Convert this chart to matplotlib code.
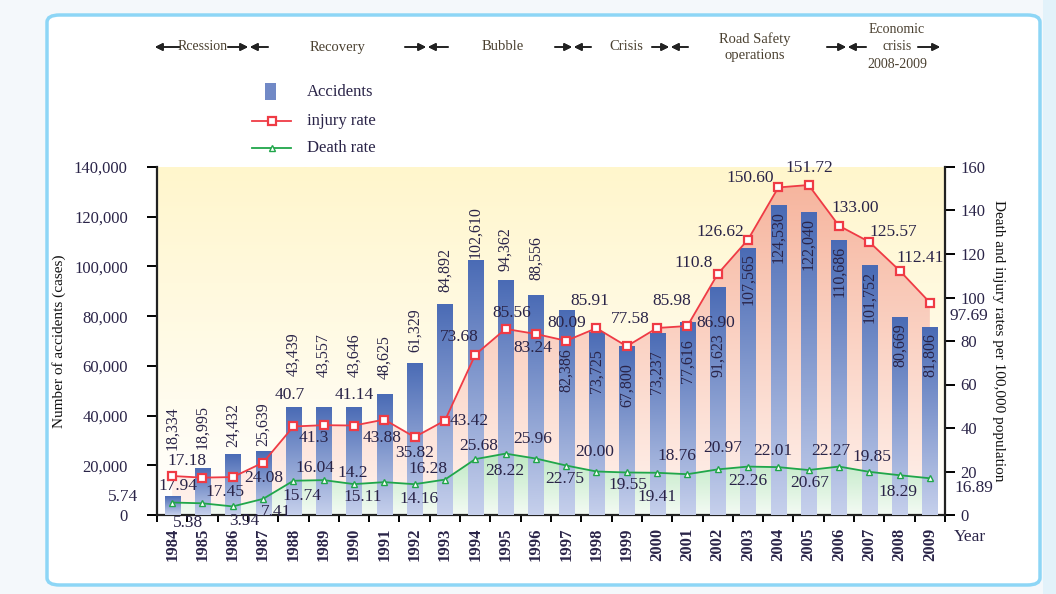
import numpy as np
import matplotlib.pyplot as plt
from matplotlib.patches import FancyBboxPatch, Rectangle
from matplotlib.lines import Line2D
from matplotlib.colors import LinearSegmentedColormap
from matplotlib.ticker import FuncFormatter

plt.rcParams['font.family'] = ['Liberation Serif', 'DejaVu Serif']

# ---- data ----
years = ['1984', '1985', '1986', '1987', '1988', '1989', '1990', '1991', '1992',
         '1993', '1994', '1995', '1996', '1997', '1998', '1999', '2000', '2001',
         '2002', '2003', '2004', '2005', '2006', '2007', '2008', '2009']

# bar heights as drawn
accidents = [7600, 18995, 24432, 25639, 43439, 43557, 43646, 48625, 61329,
             84892, 102610, 94362, 88556, 82386, 73725, 67800, 73237, 77616,
             91623, 107565, 124530, 122040, 110686, 100500, 79700, 75600]
# numbers printed on the bars
accident_labels = ['18,334', '18,995', '24,432', '25,639', '43,439', '43,557',
                   '43,646', '48,625', '61,329', '84,892', '102,610', '94,362',
                   '88,556', '82,386', '73,725', '67,800', '73,237', '77,616',
                   '91,623', '107,565', '124,530', '122,040', '110,686',
                   '101,752', '80,669', '81,806']

injury_labels = ['17.94', '17.18', '17.45', '24.08', '40.7', '41.3', '41.14',
                 '43.88', '35.82', '43.42', '73.68', '85.56', '83.24', '80.09',
                 '85.91', '77.58', '85.98', '86.90', '110.8', '126.62', '150.60',
                 '151.72', '133.00', '125.57', '112.41', '97.69']
death_labels = ['5.74', '5.38', '3.94', '7.41', '15.74', '16.04', '14.2', '15.11',
                '14.16', '16.28', '25.68', '28.22', '25.96', '22.75', '20.00',
                '19.55', '19.41', '18.76', '20.97', '22.26', '22.01', '20.67',
                '22.27', '19.85', '18.29', '16.89']
injury = [float(s) for s in injury_labels]
death = [float(s) for s in death_labels]

periods = ['Rcession', 'Recovery', 'Bubble', 'Crisis', 'Road Safety\noperations',
           'Economic\ncrisis\n2008-2009']

# label offsets in pixels (dx, dy down)
inj_off = [(6, 10), (-16, -17), (-8, 15), (1, 15), (-4, -31), (-10, 13), (0, -31),
           (-2, 18), (0, 16), (24, 0), (-16, -18), (6, -16), (-3, 14), (1, -18),
           (-7, -27), (3, -27), (15, -27), (28, -3), (-24, -11), (-28, -8),
           (-28, -9), (1, -17), (16, -18), (24, -10), (21, -13), (39, 13)]
death_off = [(-49, -6), (-14, 20), (12, 15), (13, 13), (9, 15), (-9, -12), (-1, -11),
             (-22, 15), (4, 15), (-17, -11), (3, -13), (-1, 17), (-3, -20), (-1, 13),
             (-2, -20), (1, 13), (0, 24), (-10, -18), (5, -21), (0, 14), (-5, -16),
             (1, 13), (-8, -16), (3, -15), (-2, 17), (44, 10)]
# gap between bar top and its number: >0 above the bar, <0 inside it
bar_off = [46, 19, 7, 5, 31, 30, 30, 15, 11, 12, 2, 9, 15,
           -38, -17, -17, -17, -17, -46, -6, -6, -6, -6, -6, -6, -6]

W, H = 1056, 594


def fx(px):
    return px / W


def fy(py):
    return 1 - py / H


txt_col = '#2a2448'
x = np.arange(len(years))

fig = plt.figure(figsize=(10.56, 5.94), dpi=100)
fig.patch.set_facecolor('#f4f8fb')
fig.add_artist(Rectangle((fx(1043), 0), fx(13), 1, transform=fig.transFigure,
                         facecolor='#e2f2fa', edgecolor='none', zorder=-2))
fig.add_artist(FancyBboxPatch((fx(47), fy(585)), fx(1040 - 47), (585 - 15) / H,
                              boxstyle='round,pad=0,rounding_size=0.012',
                              transform=fig.transFigure, facecolor='white',
                              edgecolor='#8dd6f6', lw=2.5, zorder=-1))

pos = [fx(157), fy(515), fx(945 - 157), (515 - 167) / H]
ax_r = fig.add_axes(pos)
ax_b = ax_r.twinx()
ax_l = ax_r.twinx()
ax_r.set_zorder(1)
ax_b.set_zorder(2)
ax_l.set_zorder(3)
ax_b.patch.set_visible(False)
ax_l.patch.set_visible(False)

xlo, xhi = -0.5, len(years) - 0.5

# background gradient
bg = LinearSegmentedColormap.from_list('bg', ['#ffffff', '#fff6cc'])
grad = np.linspace(1, 0, 256).reshape(-1, 1)
ax_r.imshow(grad, extent=[xlo, xhi, 0, 160], cmap=bg, aspect='auto', zorder=0)

# injury fill gradient
pink = LinearSegmentedColormap.from_list('pink', ['#fff3ee', '#f6b29a'])
poly = ax_r.fill_between(x, injury, 0, color='none')
img = ax_r.imshow(grad, extent=[xlo, xhi, 0, 160], cmap=pink, aspect='auto', zorder=1)
img.set_clip_path(poly.get_paths()[0], transform=ax_r.transData)

# death fill gradient
green = LinearSegmentedColormap.from_list('green', ['#f4fbf4', '#b9e6bf'])
poly2 = ax_r.fill_between(x, death, 0, color='none')
img2 = ax_r.imshow(grad, extent=[xlo, xhi, 0, 30], cmap=green, aspect='auto', zorder=2)
img2.set_clip_path(poly2.get_paths()[0], transform=ax_r.transData)
ax_r.set_xlim(xlo, xhi)
ax_r.set_ylim(0, 160)

# bars with gradient
blue = LinearSegmentedColormap.from_list('blue', ['#c6d0ec', '#4a6bb5'])
bars = ax_b.bar(x, accidents, width=0.5, color='#6f88c5', zorder=1)
for b in bars:
    bx, bw, bh = b.get_x(), b.get_width(), b.get_height()
    im = ax_b.imshow(grad, extent=[bx, bx + bw, 0, bh], cmap=blue, aspect='auto', zorder=2)
    im.set_clip_path(b)
ax_b.set_xlim(xlo, xhi)
ax_b.set_ylim(0, 140000)

for i, (h, s) in enumerate(zip(accidents, accident_labels)):
    off = bar_off[i]
    ax_b.annotate(s, (x[i], h), xytext=(0, off), textcoords='offset pixels',
                  rotation=90, ha='center', va='bottom' if off > 0 else 'top',
                  fontsize=11.5, color=txt_col, zorder=5)

# lines
ax_l.plot(x, injury, color='#ef3b45', lw=1.3, marker='s', ms=6, mfc='white',
          mec='#ef3b45', mew=1.6, zorder=4)
ax_l.plot(x, death, color='#20a64a', lw=1.3, marker='^', ms=4, mfc='white',
          mec='#20a64a', mew=1.0, zorder=4)
for i in range(len(years)):
    dx, dy = inj_off[i]
    ax_l.annotate(injury_labels[i], (x[i], injury[i]), xytext=(dx, -dy),
                  textcoords='offset pixels', ha='center', va='center',
                  fontsize=12.5, color=txt_col, annotation_clip=False)
    dx, dy = death_off[i]
    ax_l.annotate(death_labels[i], (x[i], death[i]), xytext=(dx, -dy),
                  textcoords='offset pixels', ha='center', va='center',
                  fontsize=12.5, color=txt_col, annotation_clip=False)
ax_l.set_xlim(xlo, xhi)
ax_l.set_ylim(0, 160)

# axes styling
for a in (ax_r, ax_b, ax_l):
    for sp in a.spines.values():
        sp.set_visible(False)
ax_r.spines['bottom'].set_visible(True)
ax_b.spines['left'].set_visible(True)
ax_l.spines['right'].set_visible(True)
for sp in (ax_r.spines['bottom'], ax_b.spines['left'], ax_l.spines['right']):
    sp.set_linewidth(1.6)
    sp.set_color('#222222')

ax_r.set_yticks([])
ax_r.set_xticks(x)
ax_r.set_xticklabels(years, rotation=90, fontsize=12, fontweight='bold', color=txt_col)
ax_r.set_xticks(np.arange(xlo, xhi + 1), minor=True)
ax_r.tick_params(axis='x', which='major', length=0, pad=9)
ax_r.tick_params(axis='x', which='minor', length=5, width=1.4, direction='out')

ax_b.yaxis.tick_left()
ax_b.yaxis.set_label_position('left')
ax_b.set_yticks(np.arange(0, 140001, 20000))
ax_b.yaxis.set_major_formatter(FuncFormatter(lambda v, p: f'{int(v):,}'))
ax_b.tick_params(axis='y', direction='out', length=7, width=1.4, labelsize=12,
                 labelcolor=txt_col, pad=14)
ax_b.set_ylabel('Number of accidents (cases)', fontsize=11, color='#111111', labelpad=6)

ax_l.set_yticks(np.arange(0, 161, 20))
ax_l.tick_params(axis='y', direction='out', length=7, width=1.4, labelsize=12,
                 labelcolor=txt_col, pad=4)
ax_l.set_ylabel('Death and injury rates per 100,000 population', fontsize=11,
                color='#111111', rotation=-90, labelpad=14)

fig.text(fx(970), fy(537), 'Year', fontsize=12.5, ha='center', va='center', color=txt_col)

# legend
fig.add_artist(Rectangle((fx(265), fy(100)), fx(11), 17 / H, transform=fig.transFigure,
                         facecolor='#7189c6', edgecolor='none'))
fig.add_artist(Line2D([fx(252), fx(291)], [fy(121), fy(121)], transform=fig.transFigure,
                      color='#ef3b45', lw=1.3))
fig.add_artist(Line2D([fx(271.5)], [fy(121)], transform=fig.transFigure, marker='s',
                      ms=6, mfc='white', mec='#ef3b45', mew=1.6))
fig.add_artist(Line2D([fx(252), fx(291)], [fy(148), fy(148)], transform=fig.transFigure,
                      color='#20a64a', lw=1.3))
fig.add_artist(Line2D([fx(271.5)], [fy(148)], transform=fig.transFigure, marker='^',
                      ms=4, mfc='white', mec='#20a64a', mew=1.0))
for lbl, py in [('Accidents', 92), ('injury rate', 121), ('Death rate', 148)]:
    fig.text(fx(307), fy(py), lbl, fontsize=12, ha='left', va='center', color=txt_col)

# period annotations on top


def arrow(x0, x1, y):
    fig.add_artist(plt.annotate('', xy=(fx(x1), fy(y)), xytext=(fx(x0), fy(y)),
                                xycoords='figure fraction',
                                arrowprops=dict(arrowstyle='-|>', color='#222222',
                                                lw=1.2, mutation_scale=11,
                                                shrinkA=0, shrinkB=0)))


per_col = '#4a4030'
arrow(180, 155, 47)
fig.text(fx(203), fy(47), periods[0], fontsize=10, ha='center', va='center', color=per_col)
arrow(228, 248, 47)
arrow(268, 250, 47)
fig.text(fx(338), fy(47), periods[1], fontsize=10.5, ha='center', va='center', color=per_col)
arrow(405, 426, 47)
arrow(448, 428, 47)
fig.text(fx(503), fy(47), periods[2], fontsize=10.5, ha='center', va='center', color=per_col)
arrow(555, 572, 47)
arrow(591, 574, 47)
fig.text(fx(626), fy(47), periods[3], fontsize=10.5, ha='center', va='center', color=per_col)
arrow(652, 669, 47)
arrow(688, 671, 47)
fig.text(fx(755), fy(47), periods[4], fontsize=10.5, ha='center', va='center',
         color=per_col, linespacing=1.3)
arrow(827, 846, 47)
arrow(866, 848, 47)
fig.text(fx(897), fy(47), periods[5], fontsize=10, ha='center', va='center',
         color=per_col, linespacing=1.45)
arrow(918, 940, 47)

fig.savefig('out.png', dpi=100, facecolor=fig.get_facecolor())
